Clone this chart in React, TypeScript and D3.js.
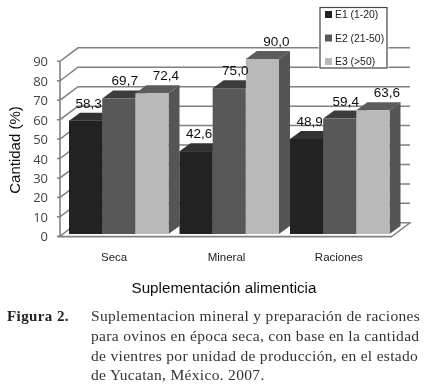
import React from "react";
import { scaleBand, scaleLinear } from "d3";

const categories = ["Seca", "Mineral", "Raciones"];
const seriesNames = ["E1 (1-20)", "E2 (21-50)", "E3 (>50)"];
const e1Values = [58.3, 42.6, 48.9];
const e2Values = [69.7, 75.0, 59.4];
const e3Values = [72.4, 90.0, 63.6];
const seriesValues = [e1Values, e2Values, e3Values];
const yTicks = [0, 10, 20, 30, 40, 50, 60, 70, 80, 90];
const captionLines = [
  "Suplementacion mineral y preparación de raciones",
  "para ovinos en época seca, con base en la cantidad",
  "de vientres por unidad de producción, en el estado",
  "de Yucatan, México. 2007.",
];

const frontColors = ["#212121", "#595959", "#b9b9b9"];
const topColors = ["#333333", "#3d3d3d", "#5c5c5c"];
const sideColors = ["#1a1a1a", "#4a4a4a", "#555555"];
const labelShift = [3, 6, 14]; // data labels sit right of the bar centre in the original
const gridColor = "#808080";

const WALL_DX = 18; // depth of the 3d box
const WALL_DY = 13.5;
const BAR_DX = 11; // depth of a bar
const BAR_DY = 8;

const comma = (v: number) => v.toFixed(1).replace(".", ",");

export default function App() {
  const axisX = 60;
  const wallRight = 410;

  // front edge of the box
  const y = scaleLinear().domain([0, 90]).range([236.3, 61.3]);
  // bars stand slightly inside the floor
  const yBar = scaleLinear().domain([0, 90]).range([234, 59]);

  const x0 = scaleBand().domain(categories).range([69, 400.5]);
  const x1 = scaleBand().domain(seriesNames).range([0, 99.5]);
  const xLabel = scaleBand().domain(categories).range([58, 395]);

  const floor = `M${axisX},${y(0)} L${axisX + WALL_DX},${y(0) - WALL_DY} L${wallRight},${y(0) - WALL_DY} L${wallRight - WALL_DX},${y(0)} Z`;

  return (
    <svg
      width={426}
      height={385}
      style={{ position: "absolute", left: 0, top: 0, background: "#fff" }}
    >
      <defs>
        <filter id="soft" x="-5%" y="-5%" width="110%" height="110%">
          <feGaussianBlur stdDeviation={0.35} />
        </filter>
      </defs>
      <g filter="url(#soft)">
        {/* walls */}
        {yTicks.map(t => (
          <path
            key={t}
            d={`M${axisX - 3},${y(t)} L${axisX},${y(t)} L${axisX + WALL_DX},${y(t) - WALL_DY} L${wallRight},${y(t) - WALL_DY}`}
            stroke={gridColor}
            strokeWidth={1.5}
            fill="none"
          />
        ))}
        <line x1={axisX} x2={axisX} y1={y(90)} y2={y(0)} stroke={gridColor} strokeWidth={1.6} />
        <path d={floor} fill="#fff" stroke={gridColor} strokeWidth={1.3} />
        <line x1={axisX - 3} x2={wallRight - WALL_DX} y1={y(0) + 0.5} y2={y(0) + 0.5} stroke={gridColor} strokeWidth={1.6} />

        {/* y tick labels */}
        {yTicks.map(t => (
          <text
            key={t}
            x={axisX - 12}
            y={y(t) + 5}
            textAnchor="end"
            fontFamily="'Open Sans'"
            fontSize={13}
            fill="#444"
          >
            {t}
          </text>
        ))}

        {/* bars */}
        {categories.map((c, ci) => (
          <g key={c}>
            {seriesNames.map((s, si) => {
              const left = x0(c)! + x1(s)!;
              const w = x1.bandwidth();
              const top = yBar(seriesValues[si][ci]);
              const base = yBar(0);
              return (
                <g key={s}>
                  <path
                    d={`M${left},${top} L${left + BAR_DX},${top - BAR_DY} L${left + w + BAR_DX},${top - BAR_DY} L${left + w},${top} Z`}
                    fill={topColors[si]}
                  />
                  <path
                    d={`M${left + w},${top} L${left + w + BAR_DX},${top - BAR_DY} L${left + w + BAR_DX},${base - BAR_DY} L${left + w},${base} Z`}
                    fill={sideColors[si]}
                  />
                  <rect x={left} y={top} width={w} height={base - top} fill={frontColors[si]} />
                </g>
              );
            })}
          </g>
        ))}

        {/* data labels */}
        {categories.map((c, ci) =>
          seriesNames.map((s, si) => (
            <text
              key={c + s}
              x={x0(c)! + x1(s)! + x1.bandwidth() / 2 + labelShift[si]}
              y={yBar(seriesValues[si][ci]) - BAR_DY - 5}
              textAnchor="middle"
              fontFamily="'Liberation Sans'"
              fontSize={13.5}
              fill="#111"
            >
              {comma(seriesValues[si][ci])}
            </text>
          ))
        )}

        {/* category labels */}
        {categories.map(c => (
          <text
            key={c}
            x={xLabel(c)! + xLabel.bandwidth() / 2}
            y={261}
            textAnchor="middle"
            fontFamily="'Liberation Sans'"
            fontSize={11.5}
            fill="#222"
          >
            {c}
          </text>
        ))}

        {/* axis titles */}
        <text
          transform="translate(20,150) rotate(-90)"
          textAnchor="middle"
          fontFamily="'Liberation Sans'"
          fontSize={15}
          fill="#111"
        >
          Cantidad (%)
        </text>
        <text
          x={224}
          y={292.5}
          textAnchor="middle"
          fontFamily="'Liberation Sans'"
          fontSize={15.2}
          fill="#111"
        >
          Suplementación alimenticia
        </text>

        {/* legend */}
        <rect x={318.5} y={6} width={70} height={63} fill="#fff" />
        <rect x={320} y={7.5} width={67} height={60.5} fill="#fff" stroke="#444" strokeWidth={1.2} />
        {seriesNames.map((s, i) => (
          <g key={s}>
            <rect x={325} y={11 + i * 23.5} width={7} height={7} fill={frontColors[i]} />
            <text
              x={335}
              y={18 + i * 23.5}
              fontFamily="'Liberation Sans'"
              fontSize={10.4}
              fill="#222"
            >
              {s}
            </text>
          </g>
        ))}

        {/* caption */}
        <text
          x={7}
          y={321}
          fontFamily="'Liberation Serif'"
          fontWeight="bold"
          fontSize={15}
          letterSpacing={0.4}
          fill="#222"
        >
          Figura 2.
        </text>
        {captionLines.map((line, i) => (
          <text
            key={line}
            x={91}
            y={321 + i * 19.8}
            fontFamily="'Liberation Serif'"
            fontSize={15.5}
            letterSpacing={0.32}
            fill="#333"
          >
            {line}
          </text>
        ))}
      </g>
    </svg>
  );
}
